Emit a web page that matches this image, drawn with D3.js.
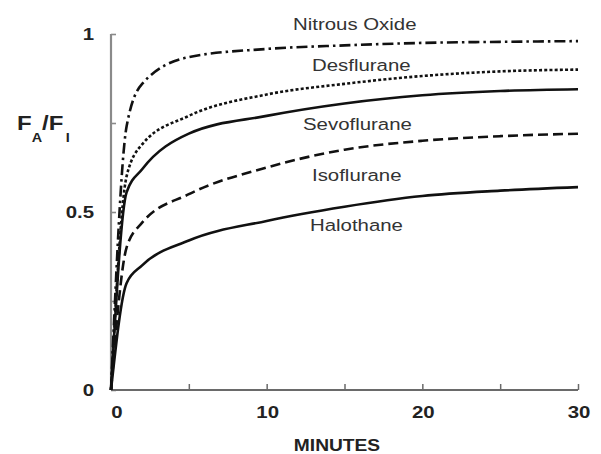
<!DOCTYPE html>
<html>
<head>
<meta charset="utf-8">
<script src="https://d3js.org/d3.v7.min.js"></script>
<style>
  body { margin: 0; background: #fff; }
  text { font-family: "Liberation Sans", Arial, sans-serif; fill: #222; }
</style>
</head>
<body>
<div id="chart"></div>
<script>
var svgWidth = 601;
var svgHeight = 454;

// time points (minutes) and FA/FI
var minutes = [0, 1, 2, 5, 10, 15, 20, 25, 30];
var nitrousOxide = [0, 0.74, 0.86, 0.935, 0.958, 0.968, 0.975, 0.978, 0.98];
var desflurane = [0, 0.60, 0.69, 0.77, 0.83, 0.86, 0.882, 0.895, 0.90];
var sevoflurane = [0, 0.555, 0.62, 0.72, 0.77, 0.805, 0.828, 0.84, 0.845];
var isoflurane = [0, 0.40, 0.47, 0.55, 0.625, 0.675, 0.70, 0.713, 0.72];
var halothane = [0, 0.30, 0.35, 0.42, 0.475, 0.515, 0.545, 0.56, 0.57];

var agentNames = ["Nitrous Oxide", "Desflurane", "Sevoflurane", "Isoflurane", "Halothane"];
var xTicks = [0, 5, 10, 15, 20, 25, 30];
var xTickLabels = ["0", "", "10", "", "20", "", "30"];
var yTicks = [0, 0.25, 0.5, 0.75, 1];
var yTickLabels = ["0", "", "0.5", "", "1"];

var series = [
  {name: agentNames[0], values: nitrousOxide, dash: "11,4,2.5,4", lx: 293, ly: 30},
  {name: agentNames[1], values: desflurane, dash: "3,2.2", lx: 312, ly: 71},
  {name: agentNames[2], values: sevoflurane, dash: null, lx: 303, ly: 130},
  {name: agentNames[3], values: isoflurane, dash: "10,5", lx: 312, ly: 181},
  {name: agentNames[4], values: halothane, dash: null, lx: 310, ly: 231}
];

var stretch = 1.2;

var svg = d3.select("#chart")
  .append("svg")
  .attr("width", svgWidth)
  .attr("height", svgHeight);

var xScale = d3.scaleLinear().domain([0, 30]).range([111, 578]);
var yScale = d3.scaleLinear().domain([0, 1]).range([390, 34]);

// stretched text helper (the source figure is wider than it is tall)
function addText(x, y, str, size, weight, anchor) {
  return svg.append("text")
    .attr("transform", `translate(${x}, ${y}) scale(${stretch}, 1)`)
    .attr("text-anchor", anchor || "start")
    .style("font-size", size + "px")
    .style("font-weight", weight || "normal")
    .text(str);
}

// y axis
var yAxis = svg.append("g")
  .attr("transform", `translate(${xScale(0)}, 0)`)
  .call(d3.axisLeft(yScale).tickValues(yTicks).tickSize(-5).tickFormat(""));
yAxis.select(".domain").attr("stroke", "#8a8a8a").attr("stroke-width", 2.2).attr("d", `M0,${yScale(0)}V${yScale(1)}`);
yAxis.selectAll(".tick line").attr("stroke", "#8a8a8a").attr("stroke-width", 1.6);

// x axis
var xAxis = svg.append("g")
  .attr("transform", `translate(0, ${yScale(0)})`)
  .call(d3.axisBottom(xScale).tickValues(xTicks).tickSize(-6).tickFormat(""));
xAxis.select(".domain").attr("stroke", "#6a6a6a").attr("stroke-width", 2).attr("d", `M${xScale(0)},0H${xScale(30)}`);
xAxis.selectAll(".tick line").attr("stroke", "#6a6a6a").attr("stroke-width", 1.5);

// tick labels
yTicks.forEach(function(t, i) {
  if (yTickLabels[i]) addText(xScale(0) - 17, yScale(t) + 6, yTickLabels[i], 17, "bold", "end");
});
xTicks.forEach(function(t, i) {
  if (xTickLabels[i]) addText(xScale(t) + (t === 0 ? 6 : 1), 418, xTickLabels[i], 17, "bold", "middle");
});

// axis titles
addText(337, 451, "MINUTES", 16, "bold", "middle");
var yTitle = svg.append("text")
  .attr("transform", `translate(17, 130) scale(${stretch}, 1)`)
  .style("font-size", "20px")
  .style("font-weight", "bold");
yTitle.append("tspan").text("F");
yTitle.append("tspan").attr("dy", 12).style("font-size", "12px").text("A");
yTitle.append("tspan").attr("dy", -12).text("/F");
yTitle.append("tspan").attr("dy", 12).attr("dx", 2).style("font-size", "12px").text("I");

// curves
var line = d3.line()
  .x(function(d, i) { return xScale(minutes[i]); })
  .y(function(d) { return yScale(d); })
  .curve(d3.curveMonotoneX);

svg.selectAll(".agent")
  .data(series)
  .enter()
  .append("path")
  .attr("class", "agent")
  .attr("d", function(d) { return line(d.values); })
  .attr("fill", "none")
  .attr("stroke", "#111")
  .attr("stroke-width", 2.6)
  .attr("stroke-linejoin", "round")
  .attr("stroke-dasharray", function(d) { return d.dash; });

// curve labels
series.forEach(function(s) {
  addText(s.lx, s.ly, s.name, 17, "normal", "start").style("fill", "#333");
});
</script>
</body>
</html>
